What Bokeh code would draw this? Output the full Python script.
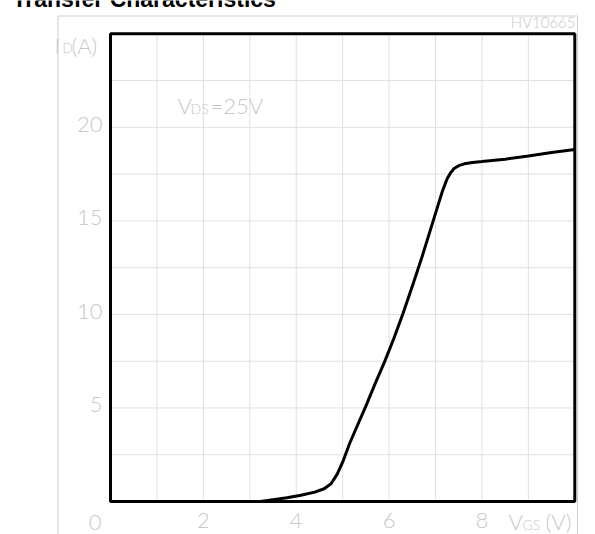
from bokeh.plotting import figure
from bokeh.models import Range1d, Label, ColumnDataSource, BoxAnnotation
from bokeh.core.properties import value
from bokeh.embed import file_html
from bokeh.resources import INLINE

# ---- data ----
vgs = [3.23, 3.5, 3.8, 4.1, 4.4, 4.6, 4.75, 4.88, 5.0, 5.15, 5.35, 5.5, 5.7,
       5.9, 6.1, 6.3, 6.5, 6.7, 6.9, 7.05, 7.15, 7.25, 7.32, 7.4, 7.5, 7.62,
       7.8, 8.0, 8.5, 9.0, 9.5, 10.0]
id_a = [0.0, 0.1, 0.2, 0.33, 0.5, 0.68, 0.95, 1.45, 2.1, 3.1, 4.25, 5.1, 6.3,
        7.45, 8.7, 10.05, 11.5, 13.0, 14.6, 15.8, 16.6, 17.25, 17.55, 17.8,
        17.95, 18.05, 18.12, 18.17, 18.3, 18.47, 18.65, 18.82]
x_tick_vals = [2, 4, 6, 8]
x_tick_text = ["2", "4", "6", "8"]
y_tick_vals = [5, 10, 15, 20]
y_tick_text = ["5", "10", "15", "20"]
x_grid_vals = [1, 2, 3, 4, 5, 6, 7, 8, 9]
y_grid_vals = [2.5, 5, 7.5, 10, 12.5, 15, 17.5, 20, 22.5]
XMAX, YMAX = 10, 25

# ---- layout (pixels of the 595x534 canvas) ----
W, H = 595, 534
FL, FR, FT, FB = 110, 574.3, 33.3, 501
XS = (FR - FL) / XMAX
YS = (FB - FT) / YMAX
BASE_K = 0.35  # baseline correction (fraction of font size)

def dx(px):
    return (px - FL) / XS

def dy(py):
    return (FB - py) / YS

GRAY = "#c8c8c8"
FONT = "Lato Light"

p = figure(width=W, height=H,
           x_range=Range1d(dx(0), dx(W)), y_range=Range1d(dy(H), dy(0)),
           x_axis_location=None, y_axis_location=None, title=None,
           output_backend="svg", toolbar_location=None,
           min_border=0, min_border_left=0, min_border_right=0,
           min_border_top=0, min_border_bottom=0)
p.background_fill_color = "white"
p.border_fill_color = "white"
p.outline_line_color = None
p.grid.grid_line_color = None

# grid inside the frame
p.segment(x0=x_grid_vals, x1=x_grid_vals, y0=[0] * len(x_grid_vals),
          y1=[YMAX] * len(x_grid_vals), line_color="#e0e0e0", line_width=1)
p.segment(x0=[0] * len(y_grid_vals), x1=[XMAX] * len(y_grid_vals),
          y0=y_grid_vals, y1=y_grid_vals, line_color="#e0e0e0", line_width=1)

# outer light box
p.line([dx(57.5), dx(57.5), dx(577), dx(577)],
       [dy(540), dy(15.5), dy(15.5), dy(540)],
       line_color="#cfcfcf", line_width=1)

# curve
p.line(vgs, id_a, line_color="black", line_width=3)

# frame
p.add_layout(BoxAnnotation(left=0, right=XMAX, bottom=0, top=YMAX,
                           fill_alpha=0, line_color="black", line_alpha=1.0,
                           line_width=3))

# tick labels
xs = ColumnDataSource(dict(x=x_tick_vals, text=x_tick_text))
p.text(x="x", y=dy(528 - BASE_K * 22), text="text", source=xs,
       text_align="center", text_baseline="alphabetic", text_font=value(FONT),
       text_font_size="22px", text_color=GRAY)
ys = ColumnDataSource(dict(y=y_tick_vals, text=y_tick_text))
p.text(x=dx(102), y="y", text="text", source=ys, text_align="right",
       text_baseline="middle", text_font=value(FONT), y_offset=-3,
       text_font_size="22px", text_color=GRAY)

def lab(text, px, py, size=22, align="left", color=GRAY, font=FONT, style="normal"):
    p.add_layout(Label(x=dx(px), y=dy(py - BASE_K * size), text=text,
                       text_align=align, text_baseline="alphabetic",
                       text_font=font, text_font_size=f"{size}px",
                       text_color=color, text_font_style=style))

lab("0", 101, 530, align="right")
lab("I", 54, 53)
lab("D", 62, 52, size=13)
lab("(A)", 71, 53)
lab("V", 177, 113)
lab("DS", 190, 113, size=14)
lab("=25V", 210, 113)
lab("V", 508, 529)
lab("GS", 522, 529, size=14)
lab("(V)", 545, 529)
lab("HV10665", 575, 27, size=15, align="right")
lab("Transfer Characteristics", 12, 7, size=23, color="black",
    font="Liberation Sans", style="bold")

open("out.html", "w").write(file_html(p, INLINE))
